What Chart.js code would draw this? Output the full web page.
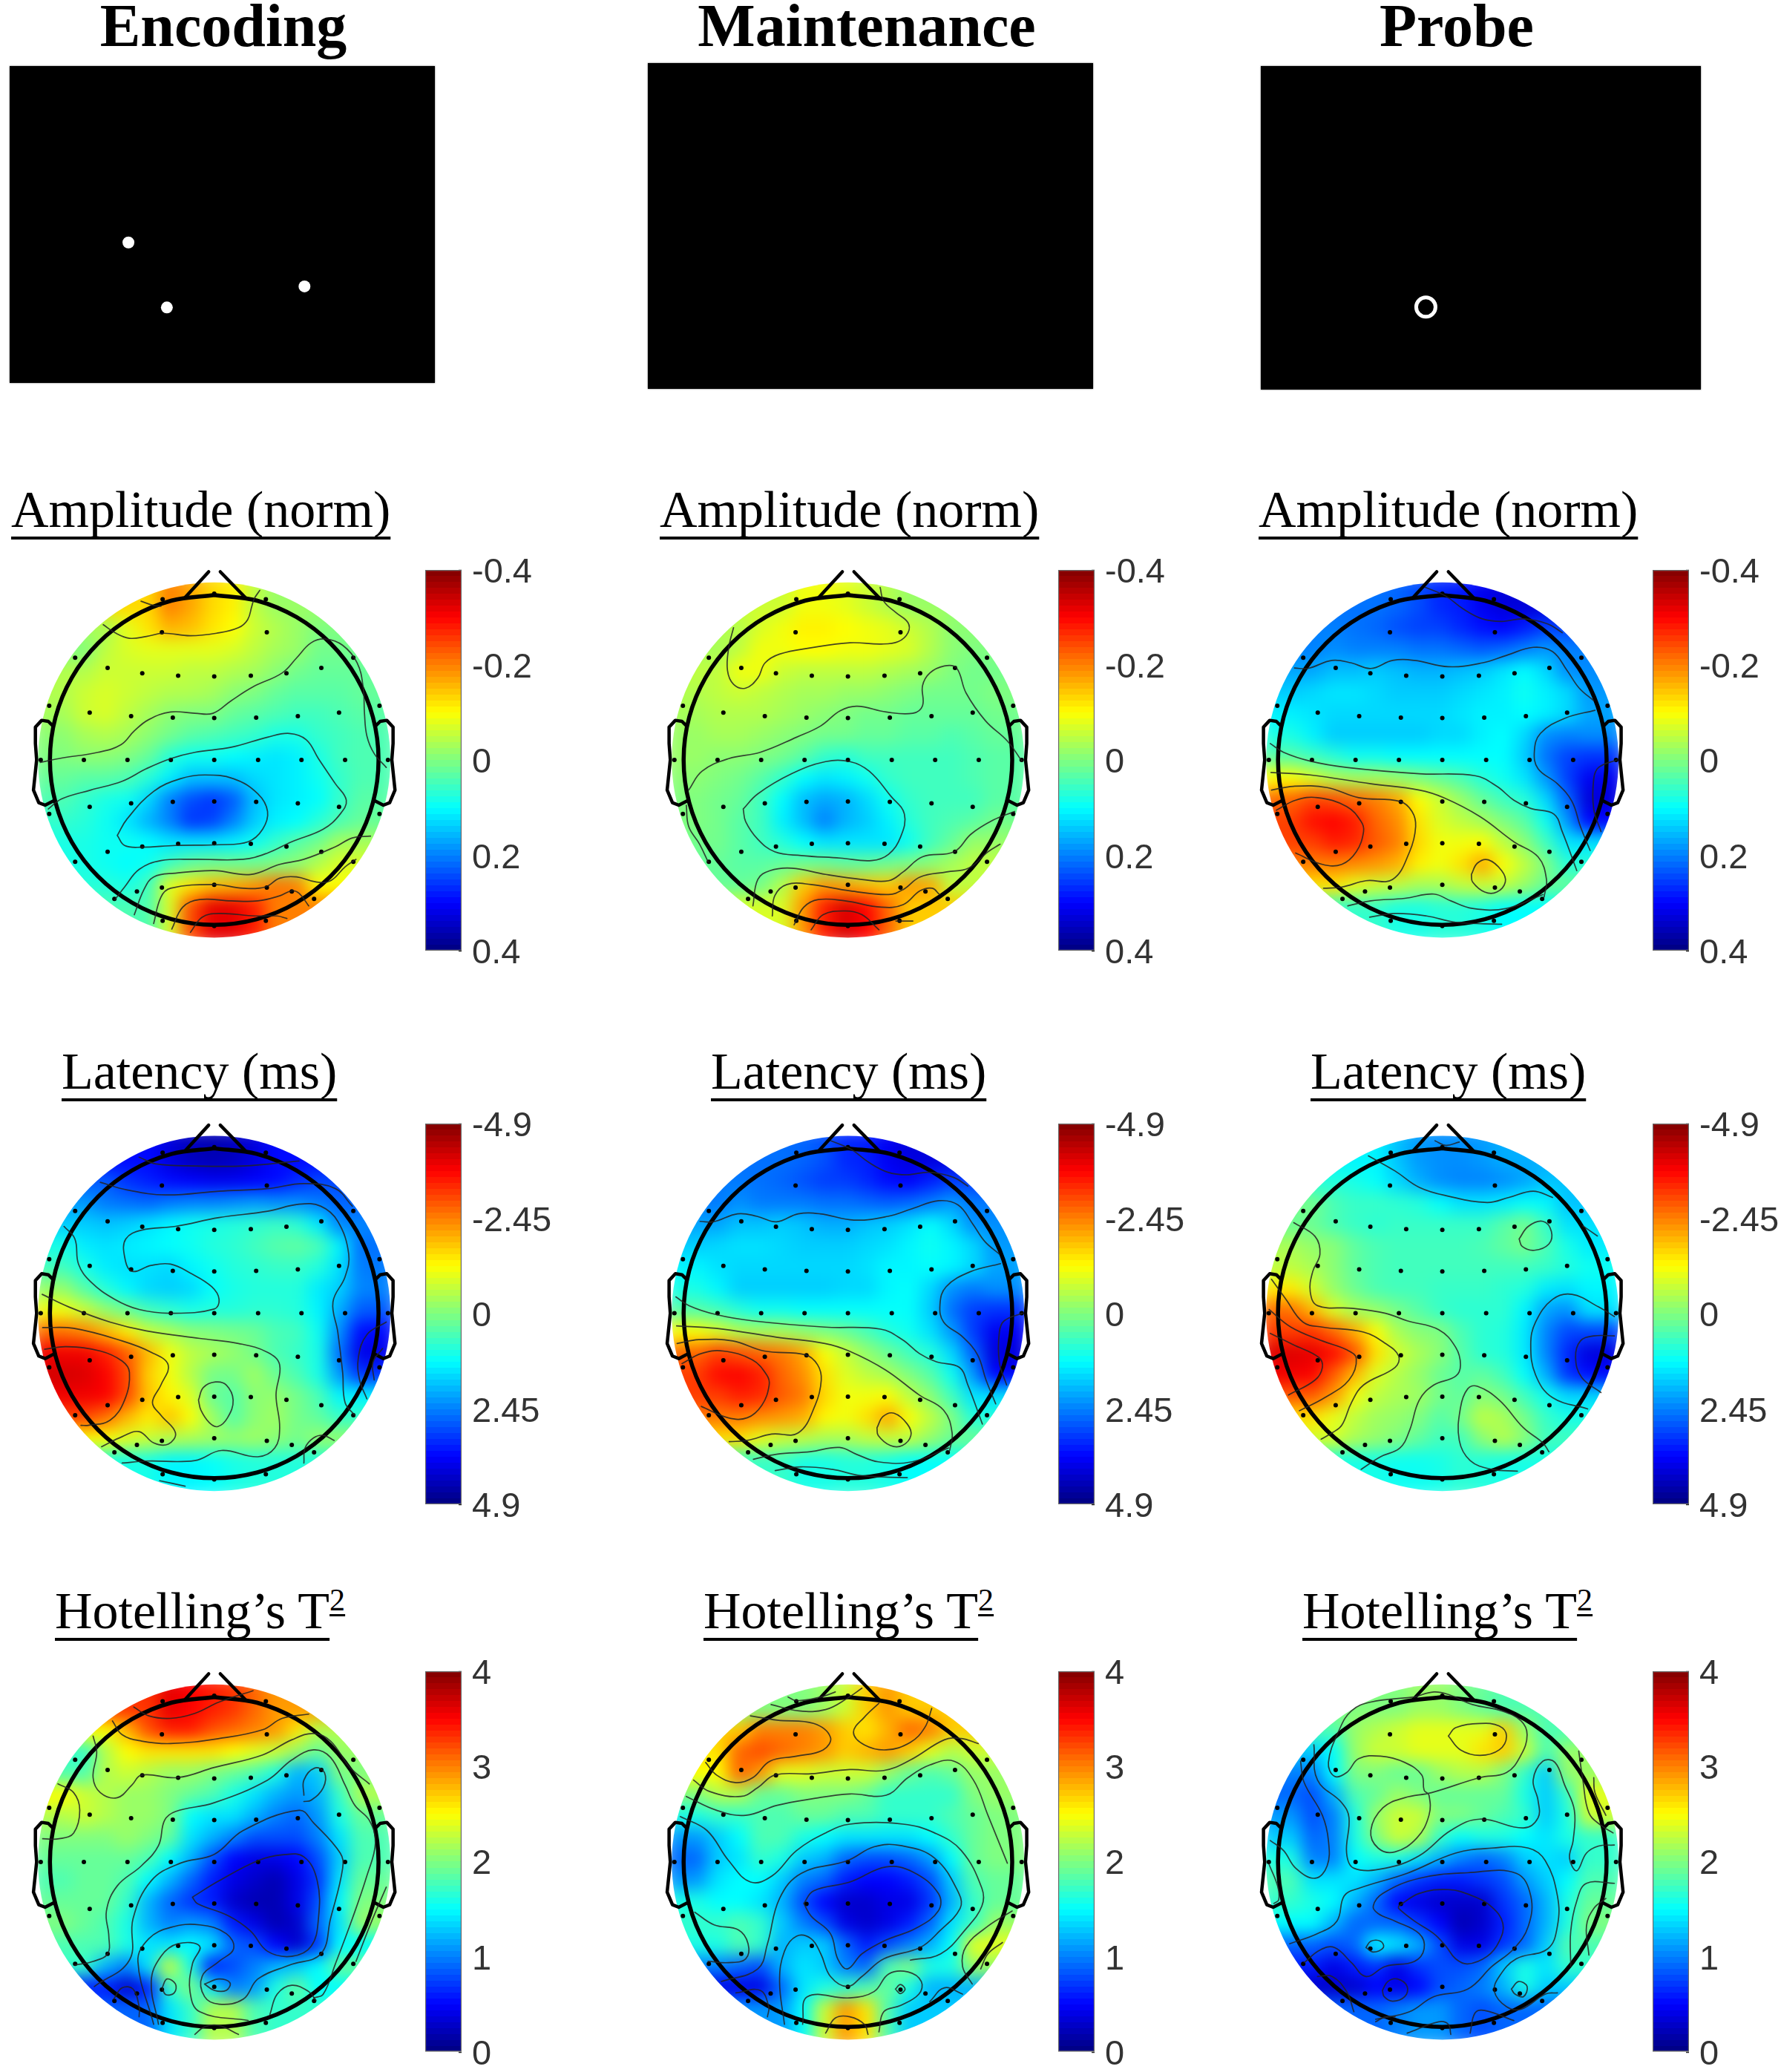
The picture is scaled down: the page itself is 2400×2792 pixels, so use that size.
<!doctype html>
<html>
<head>
    <title>Encoding, Maintenance, Probe topographies</title>
    <script src="https://cdn.jsdelivr.net/npm/chart.js"></script>
    <style>
        html, body { margin: 0; padding: 0; background: #fff; }
        body { position: relative; width: 2400px; height: 2792px; overflow: hidden; }
        canvas { position: absolute; }
        .clip { position: absolute; width: 520px; height: 540px; }
        .txt {
            position: absolute;
            font-family: "Liberation Serif", serif;
            color: #000;
            line-height: 1;
            white-space: nowrap;
        }
        .head { font-size: 82px; font-weight: bold; transform: translateX(-50%); }
        .sub { font-size: 70px; }
        .sub span, .sub sup {
            text-decoration: underline;
            text-decoration-skip-ink: none;
            text-decoration-thickness: 4px;
            text-underline-offset: 13px;
        }
        .sub sup {
            font-size: 42px;
            line-height: 0;
            vertical-align: 24px;
            text-decoration-thickness: 3px;
            text-underline-offset: 5px;
        }
    </style>
</head>
<body>
<script>
// colour grid of each map, rows front to back in the units of its colour bar
const ampEncoding = [
 [-.13,-.2,-.17,-.13,-.11,-.05,-.02],
 [-.03,-.08,-.12,-.16,-.15,-.12,-.1,-.06,-.04,-.02,0],
 [0,-.05,-.07,-.08,-.08,-.08,-.08,-.07,-.05,-.03,-.02,.01,.01],
 [-.04,-.06,-.06,-.06,-.06,-.05,-.05,-.04,-.03,-.01,.01,.02,.02],
 [-.04,-.06,-.07,-.06,-.05,-.04,-.04,-.03,-.01,0,.02,.03,.03,.03,.02],
 [-.03,-.06,-.07,-.05,-.03,-.01,0,0,.02,.03,.04,.05,.05,.04,.03],
 [-.01,-.03,-.04,-.03,-.01,.01,.03,.04,.05,.06,.08,.08,.06,.05,.04],
 [0,-.01,-.01,0,.02,.07,.09,.09,.1,.11,.12,.11,.08,.05,.04],
 [.02,.03,.03,.04,.07,.11,.15,.15,.15,.13,.12,.11,.09,.06,.04],
 [.04,.06,.08,.09,.13,.2,.24,.26,.23,.15,.12,.11,.1,.06,.03],
 [.06,.07,.09,.12,.16,.2,.26,.25,.2,.14,.11,.1,.07,.04,.02],
 [.08,.09,.09,.1,.12,.12,.12,.11,.09,.06,.03,.01,-.03],
 [.08,.09,.1,.09,.05,.02,.01,.01,.01,0,-.01,-.04,-.07],
 [.07,.08,.05,-.08,-.12,-.15,-.16,-.18,-.21,-.2,-.1],
 [.04,-.07,-.24,-.32,-.32,-.28,-.2]
];
const ampMaintenance = [
 [-.06,-.09,-.09,-.08,-.06,-.04,-.02],
 [-.04,-.07,-.09,-.11,-.11,-.1,-.09,-.08,-.06,-.04,-.01],
 [-.03,-.05,-.09,-.09,-.1,-.1,-.09,-.09,-.08,-.07,-.04,-.01,0],
 [-.05,-.09,-.09,-.06,-.05,-.05,-.05,-.05,-.04,-.03,-.02,0,.01],
 [-.04,-.05,-.06,-.05,-.04,-.03,-.03,-.02,-.02,-.01,0,.01,.01,.01,0],
 [-.03,-.04,-.04,-.04,-.03,-.02,-.01,0,.01,.01,.02,.02,.02,.02,.01],
 [-.02,-.03,-.03,-.02,-.01,0,.01,.01,.02,.02,.03,.03,.04,.03,.02],
 [-.02,-.01,-.01,0,.01,.03,.06,.07,.05,.05,.05,.05,.05,.04,.03],
 [-.01,0,.01,.03,.06,.1,.12,.11,.09,.06,.05,.05,.05,.04,.03],
 [0,.01,.02,.05,.1,.15,.17,.16,.13,.09,.06,.05,.05,.05,.03],
 [0,.01,.03,.05,.11,.15,.2,.16,.14,.11,.07,.05,.04,.03,.01],
 [.01,.03,.05,.07,.1,.12,.12,.12,.12,.09,.05,.02,-.02],
 [.02,.03,.03,.02,.01,.01,.02,.02,.01,0,-.01,-.03,-.05],
 [.02,.01,-.04,-.14,-.18,-.17,-.15,-.14,-.18,-.17,-.05],
 [-.07,-.18,-.28,-.33,-.3,-.22,-.14]
];
const ampProbe = [
 [.21,.22,.24,.27,.28,.31,.33],
 [.2,.21,.22,.24,.25,.25,.27,.29,.3,.28,.25],
 [.2,.19,.2,.2,.2,.21,.21,.22,.23,.22,.2,.18,.2],
 [.17,.15,.15,.14,.15,.16,.16,.15,.14,.12,.1,.13,.19],
 [.14,.13,.12,.12,.13,.14,.14,.14,.13,.12,.11,.09,.11,.13,.18],
 [.11,.12,.13,.13,.13,.13,.13,.13,.12,.11,.11,.1,.11,.13,.17],
 [.08,.11,.14,.14,.14,.14,.14,.13,.13,.11,.1,.13,.19,.2,.19],
 [.03,.05,.07,.09,.09,.1,.1,.1,.1,.1,.1,.14,.21,.25,.26],
 [-.1,-.07,-.04,-.03,-.03,-.02,0,.02,.04,.07,.09,.12,.18,.25,.31],
 [-.22,-.25,-.24,-.22,-.2,-.17,-.1,-.06,-.02,.02,.05,.07,.13,.22,.33],
 [-.25,-.29,-.3,-.28,-.22,-.19,-.12,-.07,-.05,-.03,0,.03,.09,.18,.3],
 [-.25,-.28,-.27,-.23,-.2,-.13,-.09,-.09,-.1,-.05,-.01,.05,.12],
 [-.2,-.2,-.19,-.18,-.16,-.11,-.09,-.12,-.17,-.1,-.05,0,.07],
 [-.12,-.08,-.06,-.05,-.03,-.03,-.05,-.06,-.05,-.02,.02],
 [.06,.08,.08,.07,.07,.08,.1]
];
const latEncoding = [
 [3.6,4,4.3,4.4,4.3,4,3.6],
 [2.8,3.2,3.4,3.6,3.7,3.8,3.8,3.7,3.6,3.3,3],
 [2.2,2.5,2.6,2.7,2.5,2.4,2.4,2.3,2.2,2.3,2.3,2.5,2.7],
 [1.7,1.8,1.7,1.5,1.3,1.1,1,.9,.8,.7,.8,1.4,2.4],
 [1,1.4,1.5,1.4,1.3,1.2,1.1,.9,.8,.6,.4,.3,.5,1.3,2.6],
 [.6,1,1.4,1.5,1.5,1.6,1.3,1.1,.9,.8,.7,.7,.9,1.5,2.5],
 [-.2,.4,.9,1.3,1.6,1.7,1.6,1.2,1,.9,.9,.9,1.4,1.7,2.4],
 [-1.1,-.7,-.2,.2,.6,.8,1,.9,.9,.8,.8,.9,1.3,2,2.8],
 [-2.6,-2.4,-1.9,-1.4,-.7,-.4,-.1,0,.1,.2,.5,.6,1.1,2.3,3.6],
 [-3.8,-3.8,-3.4,-2.8,-1.9,-1.1,-.6,-.4,-.2,.1,.5,.7,1,2.6,3.9],
 [-4.1,-4,-3.7,-3,-1.7,-1.1,-.5,.1,.1,-.3,.2,.5,1,2.2,3.2],
 [-3.8,-3.7,-3,-1.8,-1.3,-.9,.2,.4,-.1,-.2,.1,.5,1.3],
 [-3,-2.6,-1.9,-1.4,-1.8,-1.2,-.3,.4,-.1,-.3,.1,.3,.7],
 [-1.2,-.9,-.7,-.5,-.4,-.3,-.2,-.3,-.1,.1,-.2],
 [1,1.3,1.3,1.2,1,.9,.9]
];
const latMaintenance = [
 [2.6,2.7,2.9,3.3,3.4,3.8,4],
 [2.5,2.6,2.7,2.9,3.1,3.1,3.3,3.6,3.7,3.4,3.1],
 [2.5,2.3,2.5,2.5,2.5,2.6,2.6,2.7,2.8,2.7,2.5,2.2,2.5],
 [2.1,1.8,1.8,1.7,1.8,2,2,1.8,1.7,1.5,1.2,1.6,2.3],
 [1.7,1.6,1.5,1.5,1.6,1.7,1.7,1.7,1.6,1.5,1.3,1.1,1.3,1.6,2.2],
 [1.3,1.5,1.6,1.6,1.6,1.6,1.6,1.6,1.5,1.3,1.3,1.2,1.3,1.6,2.1],
 [1,1.3,1.7,1.7,1.7,1.7,1.7,1.6,1.6,1.3,1.2,1.6,2.3,2.5,2.3],
 [.4,.6,.9,1.1,1.1,1.2,1.2,1.2,1.2,1.2,1.2,1.7,2.6,3.1,3.2],
 [-1.2,-.9,-.5,-.4,-.4,-.2,0,.2,.5,.9,1.1,1.5,2.2,3.1,3.8],
 [-2.7,-3.1,-2.9,-2.7,-2.5,-2.1,-1.2,-.7,-.2,.2,.6,.9,1.6,2.7,4],
 [-3.1,-3.6,-3.7,-3.4,-2.7,-2.3,-1.5,-.9,-.6,-.4,0,.4,1.1,2.2,3.7],
 [-3.1,-3.4,-3.3,-2.8,-2.5,-1.6,-1.1,-1.1,-1.2,-.6,-.1,.6,1.5],
 [-2.5,-2.5,-2.3,-2.2,-2,-1.3,-1.1,-1.5,-2.1,-1.2,-.6,0,.9],
 [-1.5,-1,-.7,-.6,-.4,-.4,-.6,-.7,-.6,-.2,.2],
 [.7,1,1,.9,.9,1,1.2]
];
const latProbe = [
 [1.3,1.8,2.2,2.3,2.3,2.2,2],
 [.9,1,1.2,1.6,2,2.3,2.4,2.4,2.3,2.1,1.8],
 [.1,.5,.7,.7,.8,.9,1.2,1.5,1.5,1.4,1.2,1.3,1.8],
 [.2,.5,.7,.8,.7,.7,.7,.7,.7,.4,.1,.7,1.5],
 [-.4,-.2,-.1,.3,.5,.6,.6,.6,.6,.5,.3,.1,.5,1,1.4],
 [-.6,-.4,-.1,.3,.5,.6,.6,.6,.6,.6,.6,.6,.7,.9,1.1],
 [-1.4,-.8,-.2,.2,.5,.6,.6,.7,.7,.7,.8,.9,1.4,1.5,1.3],
 [-2.6,-1.9,-.9,-.4,-.2,.1,.4,.7,.8,.8,.8,1.3,2.1,2.3,1.5],
 [-3.1,-3.2,-2.7,-2,-1.2,-.4,-.1,0,.5,.8,.9,1.4,2.4,3,3],
 [-4,-3.9,-3.6,-2.9,-1.5,-.8,-.4,-.1,.4,.8,.9,1.4,2.4,3.3,4],
 [-3.8,-3.7,-2.8,-1.9,-.9,-.5,-.2,.2,.4,.3,.6,1.2,2,3.2,3.6],
 [-2.8,-2.2,-1.1,-.6,-.4,-.3,.1,.3,-.1,.1,.6,1.1,1.6],
 [-1.5,-1,-.6,-.3,-.2,0,.4,.1,-.6,-.4,.1,.7,1],
 [-.8,-.4,-.2,0,.3,.6,.6,-.1,-.5,-.1,.6],
 [1,1.1,1.1,1,.8,.9,1]
];
const tsqEncoding = [
 [3.3,3.6,3.5,3.4,3.3,3.1,2.9],
 [2.5,2.8,3.2,3.4,3.4,3.2,3.1,3,2.9,2.6,2.2],
 [1.7,2.2,2.5,2.6,2.6,2.6,2.6,2.5,2.4,2.3,2.1,1.9,2.1],
 [1.8,2.2,2.3,2.2,2.1,2.1,2,1.9,1.8,1.6,1.2,1.3,2],
 [2.5,2.3,2.2,2.1,2.1,2,1.9,1.8,1.6,1.4,1.2,1.1,1.2,1.7,2.2],
 [2.2,2.3,2.2,2.1,2.1,2,1.5,1.4,1.4,1.2,1,.9,1.1,1.6,1.9],
 [2,2,2,2.1,2,1.9,1.4,1.2,1,.8,.8,.8,1,1.4,1.8],
 [1.9,1.9,1.9,1.9,1.8,1.5,1.2,.8,.5,.4,.4,.5,.8,1.3,1.8],
 [1.8,1.9,1.9,1.8,1.5,1.2,.9,.6,.4,.3,.2,.4,.7,1.4,1.9],
 [1.9,1.9,1.9,1.7,1.2,.9,.7,.6,.3,.2,.2,.4,.8,1.5,2],
 [2,1.9,1.8,1.6,1.2,1,1.1,1,.6,.4,.2,.3,.9,1.4,2.1],
 [1.8,1.8,1.6,1.4,1.4,1.5,1.4,.9,.8,.5,.3,.7,1.5],
 [1.7,1.2,1,1.4,2.3,1.6,.6,.8,1,1.2,1.3,1.5,1.9],
 [.6,.3,.6,1.7,2,1.4,1,1.1,1.6,1.9,1.5],
 [.9,1.4,1.7,2.2,2.2,1.8,1.7]
];
const tsqMaintenance = [
 [2,2,2.1,2.3,2.7,2.9,2.7],
 [2.7,3,3,3,2.9,2.7,2.6,2.8,3.1,3,2.7],
 [2.6,3.1,3.2,3.1,3,2.9,2.7,2.8,2.9,2.7,2.4,2.2,2.3],
 [2.5,3.1,2.9,2.4,2.4,2.3,2.3,2.3,2.1,1.9,1.8,1.9,2.1],
 [2,2.2,2.2,1.9,1.9,2,2,2,1.9,1.7,1.7,1.7,1.7,2,2.1],
 [1.6,1.7,1.7,1.8,1.8,1.9,1.9,1.8,1.8,1.7,1.7,1.7,1.8,1.9,2],
 [1.1,1.3,1.5,1.8,1.8,1.6,1.5,1.4,1.4,1.4,1.4,1.5,1.7,1.9,2],
 [.9,1.3,1.4,1.7,1.6,1.3,1.2,.9,.8,.8,.9,1.1,1.5,1.9,2],
 [1.1,1.4,1.5,1.5,1.3,1,.9,.6,.5,.5,.6,.8,1.3,1.8,1.9],
 [1.6,1.5,1.5,1.4,1.2,.8,.5,.3,.3,.4,.4,.7,1.2,1.7,1.9],
 [1.7,1.7,1.8,1.7,1.3,1,.8,.4,.3,.4,.6,.9,1.4,1.7,2.1],
 [1.6,1.8,1.7,1.2,1.3,1.3,.9,.6,.8,1,1.2,1.5,2.4],
 [1,.9,.8,1.2,1.4,1.3,1,.9,1.8,2,1.6,1.6,2.1],
 [.4,.4,.9,1.4,1.6,1.7,1.8,1.9,1.6,1.2,1.2],
 [1.1,1.5,2.3,2.9,2.6,1.8,1.3]
];
const tsqProbe = [
 [2,2,2.1,2.1,2,1.9,1.8],
 [1.8,2.1,2.2,2.3,2.4,2.4,2.4,2.4,2.7,2.1,1.8],
 [1.3,1.5,2.1,2.3,2.3,2.4,2.4,2.4,2.6,2.7,2.3,1.8,2.1],
 [1,1.5,2,2,1.9,1.9,2.1,2.2,2.2,2,1.7,1.3,2.1],
 [.9,.8,1.2,1.8,1.9,2.1,2,1.9,1.9,1.9,1.9,1.6,1.3,1.7,2.4],
 [1.1,.8,1,1.6,2.1,2.3,2.3,2,2,1.9,1.8,1.7,1.3,1.6,2.3],
 [1.3,.9,1,1.6,2,2.3,2.2,1.7,1.5,1.6,1.6,1.5,1.4,1.6,1.7],
 [1.6,1,1,1.5,1.6,1.6,1.4,1.2,1,.9,1,1.3,1.4,1.3,1.7],
 [1.8,1.4,1.4,1.4,1.2,.9,.7,.6,.6,.7,.8,1.1,1.3,1.5,1.8],
 [1.7,1.6,1.5,1.2,.9,.5,.4,.3,.3,.3,.7,.9,1.2,1.6,1.9],
 [1.5,1.5,1.2,.9,.9,.9,.7,.5,.2,.3,.6,.9,1.2,1.6,2],
 [.9,.8,.9,1.5,1.4,1.2,.8,.4,.4,.7,.9,1.3,1.8],
 [.6,.4,.6,.7,.4,.7,.8,.8,.9,1.3,1.6,1.4,1.7],
 [.3,.3,.5,.4,.5,.8,.9,1,1.2,1.6,1.3],
 [.9,1,1.1,1.1,.9,.8,.9]
];

// iso lines, x,y pairs read on a 1568 wide grid laid over each head
const isoAmpEncoding = [
 [478,195,530,212,560,215],
 [322,288,370,320,430,342,500,335,570,322,680,332,790,322,880,300,918,268,935,215,945,185,968,152],
 [62,835,150,818,300,795,395,765,450,710,510,665,600,635,700,640,775,640,850,590,940,535,1060,480,1120,420,1180,360,1240,345,1310,370,1370,440,1395,540,1400,640,1410,730,1440,800,1490,855],
 [95,1020,150,980,270,945,400,910,500,860,600,820,700,795,850,775,1000,735,1090,720,1160,745,1210,820,1280,920,1325,985,1300,1040,1230,1100,1100,1150,1000,1195,900,1220,700,1220,560,1225,470,1260,410,1330,370,1380],
 [380,1125,420,1060,530,950,640,900,740,885,860,900,960,960,1000,1030,980,1100,920,1150,800,1162,620,1165,480,1172,410,1165,380,1125],
 [450,1440,490,1340,530,1290,620,1275,780,1265,930,1280,1050,1240,1150,1220,1280,1170,1350,1135,1425,1128],
 [530,1475,560,1370,600,1335,780,1320,900,1335,990,1330,1050,1295,1120,1290,1200,1310,1260,1305,1320,1250,1365,1220],
 [605,1497,650,1410,720,1380,850,1385,960,1385,1050,1365,1100,1345,1130,1355,1170,1405],
 [682,1510,730,1450,800,1435,950,1445,1040,1445,1080,1455]
];
const isoAmpMaintenance = [
 [925,140,940,195,990,240,1040,280,1040,320,1000,355,930,365,800,360,640,380,510,405,450,440,420,500,370,540,320,525,295,470,300,380,320,300],
 [135,945,190,870,300,820,430,795,580,735,680,690,760,630,830,612,950,635,1060,640,1100,610,1100,530,1130,480,1190,452,1240,460,1280,560,1360,670,1450,750,1510,830],
 [360,1020,420,960,560,880,700,832,800,832,880,870,970,970,1025,1040,1010,1130,960,1200,890,1225,760,1215,600,1205,490,1190,420,1140,370,1070,360,1020],
 [400,1405,420,1300,470,1265,560,1255,700,1280,850,1300,960,1305,1020,1270,1100,1210,1230,1190,1300,1120,1390,1065,1480,1030],
 [480,1445,490,1365,540,1320,640,1320,800,1345,960,1360,1020,1340,1090,1290,1200,1270,1290,1255,1370,1190,1420,1160],
 [570,1480,610,1410,670,1380,780,1385,930,1410,1020,1400,1090,1345,1140,1335,1170,1360],
 [640,1500,690,1440,780,1425,850,1440,920,1500],
 [990,1465,1060,1465],
 [125,1005,135,1090,180,1160,215,1230]
];
const isoAmpProbe = [
 [725,140,810,175,880,225,960,265,1040,275,1130,265,1230,285,1290,320],
 [185,460,240,462,340,430,420,440,500,462,590,430,680,430,820,455,960,440,1060,410,1170,378,1250,395,1310,470,1360,540,1420,590],
 [1425,628,1300,660,1200,720,1175,790,1190,860,1270,920,1330,990,1365,1090,1405,1185],
 [85,760,140,795,250,830,400,855,700,880,930,888,1020,930,1090,985,1160,1018,1255,1040,1290,1110,1350,1265],
 [88,875,250,885,500,920,700,945,800,975,950,1050,1090,1150,1190,1210,1225,1300,1215,1370],
 [90,945,180,930,320,935,450,975,620,990,670,1030,685,1090,660,1190,590,1300,480,1305,380,1330,305,1335],
 [110,1025,190,985,280,975,400,1010,460,1070,470,1110,440,1190,380,1240,300,1240,190,1195],
 [915,1280,940,1235,985,1222,1040,1265,1055,1310,1020,1350,970,1350,920,1310,915,1280],
 [405,1405,500,1385,640,1375,760,1358,830,1385,920,1415,1060,1415,1210,1360],
 [495,1450,600,1435,730,1445,850,1470,1040,1478],
 [1515,825,1440,855,1420,900,1420,1020,1450,1110]
];
const isoLatEncoding = [
 [470,205,540,232,700,240,900,240,1130,220],
 [310,305,420,335,580,355,800,340,1000,330,1150,310,1280,330,1350,400],
 [160,480,205,530,220,630,270,700,370,770,470,810,600,825,780,808,800,770,770,720,680,665,600,630,520,635,440,658,410,600,415,530,480,495,620,480,800,445,1000,420,1130,392,1220,400,1290,460,1335,590,1320,680,1270,780,1290,900,1310,1060,1320,1180,1360,1230],
 [70,750,180,800,350,860,500,895,720,925,880,945,1000,980,1050,1030,1035,1150,1050,1280,1030,1360,960,1395,810,1370,700,1410,500,1412,400,1420],
 [72,882,200,885,400,935,520,980,590,1030,560,1110,525,1180,560,1230,620,1300,590,1345,530,1340,470,1295,400,1315,315,1355],
 [80,968,170,958,310,975,400,1015,430,1060,410,1170,350,1250,260,1270,230,1270],
 [715,1170,735,1120,785,1098,830,1110,858,1170,835,1240,795,1275,760,1260,725,1210,715,1170],
 [1150,1420,1155,1360,1190,1320,1230,1310,1275,1330],
 [1490,860,1410,910,1375,1000,1380,1090,1410,1165],
 [1475,965,1435,1020,1440,1090],
 [555,1490,660,1512]
];
const isoLatProbe = [
 [765,140,810,158,865,145],
 [490,200,600,260,700,325,820,360,980,385,1070,365,1170,340,1250,365],
 [1112,530,1150,480,1210,460,1245,500,1235,550,1175,575,1125,560,1112,530],
 [182,465,270,520,290,590,260,660,250,740,280,795,420,805,560,825,650,855,780,890,850,960,870,1030,850,1075,760,1110,700,1170,660,1290,620,1360,540,1395,460,1445],
 [90,690,150,770,220,860,300,880,470,900,560,945,615,995,600,1040,470,1110,420,1180,380,1270,340,1300,295,1325],
 [80,810,170,880,300,935,400,970,440,1005,410,1090,310,1160,205,1212],
 [85,905,180,950,285,1000,300,1040,270,1090,160,1150],
 [1505,838,1440,800,1330,750,1250,770,1180,860,1160,950,1180,1070,1250,1160,1395,1205],
 [1505,915,1420,915,1365,935,1345,1000,1370,1080,1450,1140],
 [1105,1452,1000,1445,910,1410,865,1330,870,1200,900,1125,940,1115,1030,1170,1130,1280,1210,1340,1235,1375],
 [1375,478,1435,518]
];
const isoTsqEncoding = [
 [448,210,510,245,600,255,700,235,800,190,940,145],
 [360,265,400,320,480,345,600,355,800,335,980,300,1060,255,1170,238],
 [280,325,295,390,280,490,310,550,380,570,440,520,480,480,630,490,780,450,980,400,1100,340,1190,315,1260,345,1340,450,1420,515],
 [135,515,200,550,225,620,200,710,140,733,72,733],
 [205,1235,280,1220,340,1190,345,1120,335,1020,380,920,480,840,550,760,575,660,620,625,780,590,1000,500,1100,420,1190,380,1260,410,1320,520,1360,600,1420,660,1445,750,1410,880,1350,1050,1280,1230,1230,1350,1190,1365],
 [1150,560,1150,500,1195,452,1235,470,1230,530,1180,580,1150,585],
 [285,1320,430,1215,445,1050,520,900,640,830,780,795,900,700,1130,620,1190,670,1300,790,1310,850,1260,1050,1220,1190,1090,1235,960,1290,900,1370,800,1390,740,1360,730,1280,800,1220,860,1170,830,1110,720,1075,600,1085,510,1130,465,1220,530,1470],
 [690,965,800,900,960,820,1060,797,1150,805,1205,900,1210,1050,1180,1160,1100,1200,1000,1180,930,1100,840,1040,710,990,690,965],
 [550,1470,520,1300,560,1200,630,1150,720,1160,690,1230,680,1340,720,1420,920,1455],
 [565,1325,585,1290,620,1310,615,1345,580,1352,565,1325],
 [740,1310,800,1290,845,1305,830,1335,780,1335,740,1310],
 [365,1370,400,1325,445,1330,470,1400,470,1440],
 [1010,1430,1040,1350,1100,1315,1170,1340,1200,1375],
 [700,1510,740,1480,800,1475,880,1510],
 [1365,1220,1430,1060,1490,925]
];
const isoTsqMaintenance = [
 [545,170,580,185,680,170,740,150],
 [475,200,590,225,700,220,790,175,850,135],
 [390,245,500,262,650,275,720,330,690,380,580,405,470,425,400,490,330,510,250,480,205,430],
 [920,195,860,250,815,310,860,360,950,380,1050,350,1110,290,1138,215],
 [155,500,220,545,350,565,420,530,490,480,640,475,800,458,940,462,1050,420,1190,340,1260,335,1330,355],
 [125,565,250,620,370,640,500,600,640,575,800,555,950,560,1040,490,1130,440,1230,425,1310,500,1370,640,1450,830],
 [100,645,210,700,300,820,390,905,480,880,580,780,700,710,800,675,1020,675,1150,710,1260,780,1345,930,1345,1000,1280,1090,1175,1190,1050,1215],
 [270,1300,420,1250,460,1150,510,970,600,870,790,820,900,765,1010,760,1150,810,1250,950,1255,1010,1170,1100,1090,1165,940,1210,850,1280,790,1320,720,1280,680,1190,640,1130,580,1120,530,1180,510,1300,530,1470],
 [610,990,650,940,800,905,950,845,1060,865,1165,950,1165,1020,1070,1090,950,1135,850,1190,790,1250,750,1210,720,1110,640,1040,610,990],
 [605,1470,625,1360,800,1365,900,1340,960,1270,1040,1262,1095,1300,1085,1350,1010,1395,940,1420,920,1500],
 [700,1505,740,1445,800,1440,860,1470,875,1510],
 [988,1330,1008,1312,1028,1330,1008,1348,988,1330],
 [160,1025,240,1075,340,1095,380,1150,370,1210,300,1225,215,1220],
 [330,1345,430,1335,465,1400,460,1440],
 [1305,1310,1265,1240,1280,1160,1370,1080,1470,1020],
 [1340,1250,1370,1190,1430,1145],
 [1130,1380,1190,1325,1265,1350]
];
const isoTsqProbe = [
 [680,170,760,150,820,160,920,200,1040,225,1120,265,1145,320,1120,400,1060,470,950,490,750,550,640,570,550,610,500,700,530,770,600,785,690,730,740,640,740,560,720,540,710,480,640,430,540,405,450,415,400,470,350,485,325,430,370,300,420,225,500,190,680,170],
 [820,325,850,292,950,275,1030,285,1060,325,1030,380,950,402,870,380,820,325],
 [265,360,280,500,380,590,410,650,400,790,430,850,560,850,700,800,830,700,950,655,1130,690,1190,650,1190,580,1170,500,1210,425,1260,430,1300,520,1340,620,1335,740,1320,810,1350,860,1390,790,1440,762,1505,758],
 [210,425,225,510,300,640,325,740,320,840,270,890,190,850,140,780,85,740],
 [165,1150,280,1110,360,1060,390,960,450,930,650,870,850,790,1000,770,1150,770,1220,820,1270,960,1270,1080,1230,1170,1100,1210,1030,1280,1010,1340,1060,1400,1120,1410,1220,1350,1270,1345],
 [225,1225,290,1175,350,1165,420,1225,480,1280,560,1240,680,1220,720,1170,700,1110,600,1060,530,1030,510,1000,550,950,700,890,900,868,1100,870,1160,960,1150,1080,1090,1170,1000,1240,900,1330,760,1360,660,1420,520,1450],
 [615,1000,700,950,820,935,920,960,1000,1005,1045,1070,1030,1140,980,1200,900,1230,850,1210,810,1160,760,1110,680,1060,615,1010,615,1000],
 [480,1165,500,1140,540,1140,552,1165,510,1183,480,1165],
 [548,1335,570,1300,610,1290,650,1320,640,1360,590,1378,555,1360,548,1335],
 [1080,1330,1110,1300,1145,1320,1130,1360,1095,1350,1080,1330],
 [280,1280,340,1280,400,1340,430,1420],
 [910,1505,930,1425,970,1415,1090,1455],
 [650,1505,780,1460,820,1470,830,1510],
 [520,1460,560,1440,600,1440],
 [1325,1240,1325,1100,1350,980,1390,910,1505,910],
 [1400,1195,1390,1080,1420,1010,1470,970],
 [1358,385,1375,500,1400,630,1450,680,1500,710],
 [1420,490,1425,550,1470,640],
 [80,835,115,920,120,975,100,990]
];

// electrode sites, head outline
const sites = [
 [567,187],[780,165],[993,187],[564,318],[997,318],[206,419],[1354,419],
 [340,460],[483,481],[631,491],[780,494],[931,491],[1078,481],[1222,460],
 [99,610],[1462,610],
 [266,637],[437,651],[609,657],[780,659],[953,657],[1125,651],[1295,637],
 [64,825],[242,825],[422,825],[601,825],[780,825],[961,825],[1140,825],[1320,825],[1497,825],
 [266,1012],[437,998],[609,992],[780,990],[953,992],[1125,998],[1295,1012],
 [99,1040],[1462,1040],
 [340,1190],[483,1169],[631,1158],[780,1156],[931,1158],[1078,1169],[1222,1190],
 [206,1230],[1354,1230],[564,1332],[780,1321],[997,1332],[461,1348],[1100,1348],
 [368,1377],[1192,1377],[567,1464],[780,1485],[993,1464]
];
const ringShape = [[0,1],[.259,.966],[.5,.866],[.707,.707],[.866,.5],[.966,.259],[1,0],[.966,-.259],[.866,-.5],[.707,-.707],[.5,-.866],[.259,-.966],
 [0,-1],[-.259,-.966],[-.5,-.866],[-.707,-.707],[-.866,-.5],[-.966,-.259],[-1,0],[-.966,.259],[-.866,.5],[-.707,.707],[-.5,.866],[-.259,.966],[0,1]];
const earShape = [[666,135],[685,153],[712,157],[738,130],[738,65],[733,0],[746,-120],[724,-170],[698,-180],[658,-160]];
const noseLeft = [[-120,645],[-23,747]];
const noseRight = [[25,747],[130,643]];

// stimulus screens, fractions of the screen
const encodingDotsX = [.273,.366,.699];
const encodingDotsY = [.559,.772,.703];
const probeRingX = [.367];
const probeRingY = [.767];

// colour bars
const ampTicks = [-0.4,-0.2,0,0.2,0.4];
const latTicks = [-4.9,-2.45,0,2.45,4.9];
const tsqTicks = [0,1,2,3,4];

const columnTitles = ['Encoding','Maintenance','Probe'];

// layout
const colLeft = [30,880,1680], rowTop = [740,1485,2225];
const headX = [780,792,795], headY = [825,827,825];
const READ_SIZE = 1568, DISC_X = 716, DISC_Y = 695, RING_X = 678, RING_Y = 655;
const barLeft = [573,1426,2227], barTop = [768,1514,2252], barHeight = [513,513,513];

function jet(t) {
    const c = v => Math.round(255 * Math.max(0, Math.min(1, v)));
    return `rgb(${c(1.5 - Math.abs(4*t - 3))},${c(1.5 - Math.abs(4*t - 2))},${c(1.5 - Math.abs(4*t - 1))})`;
}

function makeCanvas(parent, left, top, w, h) {
    const cv = document.createElement('canvas');
    cv.width = w; cv.height = h;
    cv.style.left = left + 'px';
    cv.style.top = top + 'px';
    parent.appendChild(cv);
    return cv;
}

const baseOptions = {
    responsive: false, animation: false, devicePixelRatio: 1, events: [],
    layout: { padding: 0 },
    plugins: { legend: { display: false }, tooltip: { enabled: false } }
};

function headScales(col, row) {
    return {
        x: { type: 'linear', display: false, min: -headX[col], max: READ_SIZE - headX[col] },
        y: { type: 'linear', display: false, min: headY[row] - READ_SIZE, max: headY[row] }
    };
}

// rows come narrower than the grid where they leave the disc, edge values fill the rest so the blur stays opaque
function gridPoints(rows, toShade) {
    const full = rows.map(r => {
        const side = (17 - r.length) / 2;
        return [...Array(side).fill(r[0]), ...r, ...Array(side).fill(r[r.length - 1])];
    });
    full.unshift(full[0]);
    full.push(full[full.length - 1]);
    const pts = [], colors = [];
    full.forEach((r, j) => r.forEach((v, k) => {
        pts.push({ x: (k - 8) * DISC_X * 2 / 15, y: (8 - j) * DISC_Y * 2 / 15 });
        colors.push(jet(toShade(v)));
    }));
    return { pts, colors };
}

function drawMap(col, row, rows, isoLines, isoHead, min, max, flip) {
    const left = colLeft[col], top = rowTop[row];
    const clip = document.createElement('div');
    clip.className = 'clip';
    clip.style.left = left + 'px';
    clip.style.top = top + 'px';
    const pxX = 520 / READ_SIZE, pxY = 540 / READ_SIZE;
    clip.style.clipPath = `ellipse(${DISC_X * pxX}px ${DISC_Y * pxY}px at ${headX[col] * pxX}px ${headY[row] * pxY}px)`;
    document.body.appendChild(clip);

    const toShade = v => flip ? (max - v) / (max - min) : (v - min) / (max - min);
    const grid = gridPoints(rows, toShade);
    const heat = makeCanvas(clip, 0, 0, 520, 540);
    heat.style.filter = 'blur(11px)';
    new Chart(heat, {
        type: 'scatter',
        data: { datasets: [{ data: grid.pts, pointStyle: 'rect', pointRadius: 25, borderWidth: 0, backgroundColor: grid.colors }] },
        options: { ...baseOptions, clip: false, scales: headScales(col, row) }
    });

    const line = (data, width, color, tension) => ({
        type: 'line', data, borderColor: color, borderWidth: width, pointRadius: 0,
        tension, fill: false, borderCapStyle: 'round', borderJoinStyle: 'round', clip: false
    });
    const datasets = isoLines.map(flat => {
        const data = [];
        for (let i = 0; i < flat.length; i += 2) data.push({ x: flat[i] - isoHead, y: 825 - flat[i + 1] });
        return line(data, 1.7, 'rgba(35,35,35,0.85)', 0.4);
    });
    datasets.push(line(ringShape.map(p => ({ x: p[0] * RING_X, y: p[1] * RING_Y })), 5.5, '#000', 0.33));
    datasets.push(line(earShape.map(p => ({ x: -p[0], y: p[1] })), 4.5, '#000', 0));
    datasets.push(line(earShape.map(p => ({ x: p[0], y: p[1] })), 4.5, '#000', 0));
    datasets.push(line(noseLeft.map(p => ({ x: p[0], y: p[1] })), 4.5, '#000', 0));
    datasets.push(line(noseRight.map(p => ({ x: p[0], y: p[1] })), 4.5, '#000', 0));
    datasets.push({
        type: 'scatter',
        data: sites.map(p => ({ x: p[0] - 780, y: 825 - p[1] })),
        pointRadius: 3, pointBackgroundColor: '#000', borderWidth: 0
    });
    new Chart(makeCanvas(document.body, left, top, 520, 540), {
        type: 'scatter',
        data: { datasets },
        options: { ...baseOptions, scales: headScales(col, row) }
    });
}

function drawBar(col, row, ticks, flip) {
    const pad = 40, labels = 170, w = 49, h = barHeight[row];
    const min = ticks[0], max = ticks[ticks.length - 1];
    new Chart(makeCanvas(document.body, barLeft[col], barTop[row] - pad, w + labels, h + pad * 2), {
        type: 'bar',
        data: {
            labels: [''],
            datasets: [{
                data: [[min, max]],
                barPercentage: 1, categoryPercentage: 1,
                borderWidth: 1.5, borderColor: '#666', borderSkipped: false,
                backgroundColor: ctx => {
                    const area = ctx.chart.chartArea;
                    if (!area) return '#000';
                    const g = ctx.chart.ctx.createLinearGradient(0, area.top, 0, area.bottom);
                    for (let i = 0; i < 64; i++) {
                        const c = jet(1 - (i + 0.5) / 64);
                        g.addColorStop(i / 64, c);
                        g.addColorStop((i + 1) / 64, c);
                    }
                    return g;
                }
            }]
        },
        options: {
            ...baseOptions,
            layout: { padding: { top: pad, bottom: pad, left: 0, right: 0 } },
            scales: {
                x: { display: false },
                y: {
                    type: 'linear', position: 'right', reverse: flip, min, max,
                    border: { display: false },
                    grid: { drawOnChartArea: false, tickLength: -4, tickColor: '#222', tickWidth: 1.5 },
                    afterBuildTicks: s => { s.ticks = ticks.map(v => ({ value: v })); },
                    afterFit: s => { s.width = labels; s.paddingTop = 0; s.paddingBottom = 0; },
                    ticks: {
                        color: '#333', padding: 18, autoSkip: false, maxRotation: 0,
                        // empty first line drops the digits a little below the tick
                        font: { family: '"Liberation Sans", Arial, sans-serif', size: 47, lineHeight: '8px' },
                        callback: v => ['', String(v)]
                    }
                }
            }
        }
    });
}

function drawScreen(left, top, w, h, dotsX, dotsY, ring) {
    const cv = makeCanvas(document.body, left, top, w, h);
    cv.style.background = '#000';
    cv.style.boxShadow = '0 0 2px #666';
    new Chart(cv, {
        type: 'scatter',
        data: {
            datasets: [{
                data: dotsX.map((x, i) => ({ x, y: dotsY[i] })),
                pointRadius: ring ? 13 : 8,
                pointBackgroundColor: ring ? 'rgba(0,0,0,0)' : '#fff',
                pointBorderColor: '#fff',
                pointBorderWidth: ring ? 5 : 0
            }]
        },
        options: {
            ...baseOptions,
            scales: {
                x: { type: 'linear', display: false, min: 0, max: 1 },
                y: { type: 'linear', display: false, min: 0, max: 1, reverse: true }
            }
        }
    });
}

function addText(cls, html, left, baseline, size) {
    const d = document.createElement('div');
    d.className = 'txt ' + cls;
    d.innerHTML = html;
    d.style.left = left + 'px';
    d.style.top = (baseline - 0.8375 * size) + 'px';
    document.body.appendChild(d);
}

// top row
drawScreen(13, 89, 573, 427, encodingDotsX, encodingDotsY, false);
drawScreen(873, 85, 600, 439, [], [], false);
drawScreen(1699, 89, 593, 436, probeRingX, probeRingY, true);
[301, 1168, 1963].forEach((x, i) => addText('head', columnTitles[i], x, 63, 82));

// titles of the map rows
[15, 889, 1696].forEach(x => addText('sub', '<span>Amplitude (norm)</span>', x, 711, 70));
[83, 958, 1766].forEach(x => addText('sub', '<span>Latency (ms)</span>', x, 1468, 70));
[74, 948, 1755].forEach(x => addText('sub', '<span>Hotelling’s T</span><sup>2</sup>', x, 2195, 70));

// maps
drawMap(0, 0, ampEncoding, isoAmpEncoding, 780, -0.4, 0.4, true);
drawMap(1, 0, ampMaintenance, isoAmpMaintenance, 792, -0.4, 0.4, true);
drawMap(2, 0, ampProbe, isoAmpProbe, 795, -0.4, 0.4, true);
drawMap(0, 1, latEncoding, isoLatEncoding, 780, -4.9, 4.9, true);
drawMap(1, 1, latMaintenance, isoAmpProbe, 795, -4.9, 4.9, true);
drawMap(2, 1, latProbe, isoLatProbe, 795, -4.9, 4.9, true);
drawMap(0, 2, tsqEncoding, isoTsqEncoding, 780, 0, 4, false);
drawMap(1, 2, tsqMaintenance, isoTsqMaintenance, 792, 0, 4, false);
drawMap(2, 2, tsqProbe, isoTsqProbe, 795, 0, 4, false);

// colour bars
[0, 1, 2].forEach(c => {
    drawBar(c, 0, ampTicks, true);
    drawBar(c, 1, latTicks, true);
    drawBar(c, 2, tsqTicks, false);
});
</script>
</body>
</html>
